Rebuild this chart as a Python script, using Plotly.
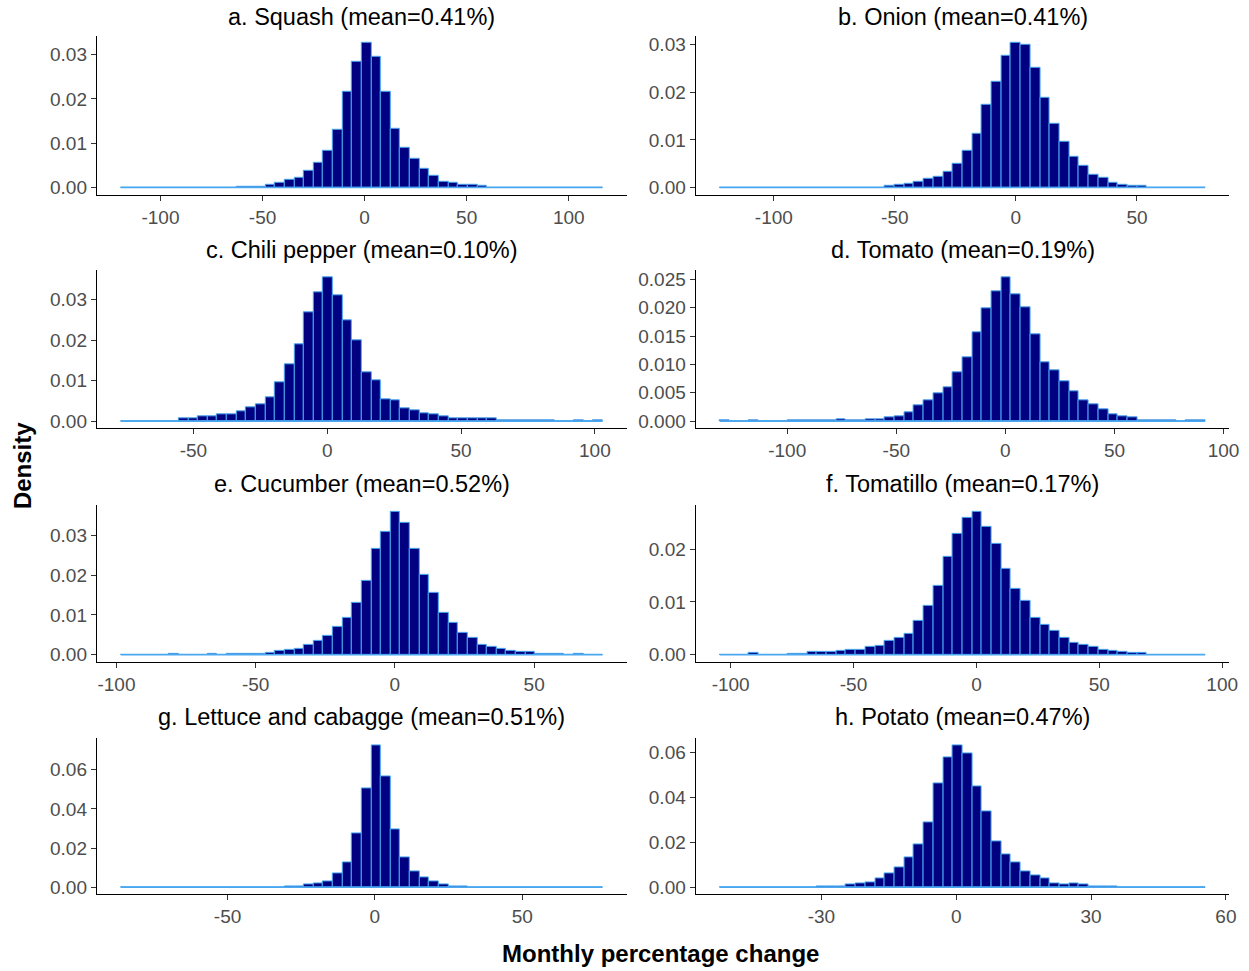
import plotly.graph_objects as go

# ---------------- data ----------------
titles = [
    "a. Squash (mean=0.41%)", "b. Onion (mean=0.41%)",
    "c. Chili pepper (mean=0.10%)", "d. Tomato (mean=0.19%)",
    "e. Cucumber (mean=0.52%)", "f. Tomatillo (mean=0.17%)",
    "g. Lettuce and cabagge (mean=0.51%)", "h. Potato (mean=0.47%)",
]

# left edge of the first bin and bin width (percentage points)
bin_start = [-119.4, -122.3, -77.1, -130.9, -98.4, -104.4, -86.2, -52.6]
bin_width = [4.72, 4.01, 3.6, 4.45, 3.46, 3.95, 3.27, 2.16]

squash = [0]*12 + [0.0002, 0.0002, 0.0002, 0.0007, 0.001, 0.0017, 0.0023, 0.0037,
                   0.0056, 0.0083, 0.013, 0.0215, 0.0284, 0.0326, 0.0295, 0.0217,
                   0.0133, 0.009, 0.0065, 0.0043, 0.0026, 0.0014, 0.0011, 0.0007,
                   0.0007, 0.0003] + [0]*12
onion = [0]*17 + [0.0003, 0.0006, 0.0008, 0.0013, 0.0018, 0.0023, 0.0034, 0.005,
                  0.0078, 0.0113, 0.0174, 0.0222, 0.0277, 0.0303, 0.0299, 0.0251,
                  0.0188, 0.0133, 0.0097, 0.0065, 0.0045, 0.0027, 0.0021, 0.0011,
                  0.0006, 0.0003, 0.0003] + [0]*6
chili = [0]*6 + [0.0006, 0.0006, 0.0011, 0.0011, 0.0017, 0.0017, 0.0024, 0.0033,
                 0.0042, 0.006, 0.0095, 0.014, 0.0191, 0.027, 0.0319, 0.0355,
                 0.031, 0.0249, 0.02, 0.0121, 0.01, 0.0055, 0.0051, 0.0032,
                 0.0027, 0.002, 0.0017, 0.0011,
                 0.0006, 0.0006, 0.0006, 0.0006, 0.0006,
                 0.0003, 0.0003, 0.0003, 0.0003, 0.0003, 0.0003,
                 0, 0, 0.0003, 0, 0.0003]
tomato = [0.0002, 0, 0, 0.0002, 0, 0, 0, 0.0002, 0.0002, 0.0002, 0.0002, 0.0002,
          0.0004, 0.0002, 0.0002, 0.0004, 0.0004, 0.0006, 0.0008, 0.0015, 0.0028,
          0.0037, 0.0049, 0.006, 0.0086, 0.0112, 0.0157, 0.0199, 0.0229, 0.0253,
          0.0224, 0.0201, 0.0153, 0.0103, 0.009, 0.0071, 0.0053, 0.0037, 0.0029,
          0.002, 0.0012, 0.0008, 0.0006, 0.0002, 0.0002, 0.0002, 0.0002, 0,
          0.0002, 0.0002]
cucumber = [0, 0, 0, 0, 0, 0.0003, 0, 0, 0, 0.0003, 0, 0.0003, 0.0003, 0.0003,
            0.0003, 0.0006, 0.001, 0.0012, 0.0016, 0.0025, 0.0035, 0.0047, 0.0069,
            0.0094, 0.0131, 0.0185, 0.0266, 0.031, 0.0359, 0.0331, 0.0266, 0.0201,
            0.0155, 0.0106, 0.0081, 0.0056, 0.0043, 0.0025, 0.0019, 0.0016, 0.001,
            0.0007, 0.0007, 0.0003, 0.0003, 0.0003, 0, 0.0003, 0, 0]
tomatillo = [0, 0, 0, 0.0003, 0, 0, 0, 0.0002, 0.0002, 0.0005, 0.0005, 0.0005,
             0.0007, 0.0009, 0.0009, 0.0014, 0.0016, 0.0026, 0.0032, 0.004, 0.0065,
             0.0093, 0.0131, 0.0186, 0.0228, 0.0258, 0.027, 0.0242, 0.0209, 0.0163,
             0.0124, 0.0102, 0.007, 0.0056, 0.0045, 0.0032, 0.0022, 0.0018, 0.0014,
             0.0009, 0.0007, 0.0005, 0.0003, 0.0003] + [0]*6
lettuce = [0]*17 + [0.0003, 0.0003, 0.0013, 0.002, 0.003, 0.007, 0.0125, 0.0275,
                    0.0505, 0.0723, 0.0568, 0.0293, 0.0155, 0.008, 0.005, 0.003,
                    0.0015, 0.0005, 0.0005] + [0]*14
potato = [0]*10 + [0.0004, 0.0004, 0.0004, 0.0013, 0.0017, 0.0022, 0.0038, 0.006,
                   0.0087, 0.0132, 0.019, 0.0288, 0.0462, 0.0575, 0.063, 0.0597,
                   0.045, 0.0337, 0.0206, 0.0147, 0.0113, 0.0071, 0.0051, 0.0038,
                   0.0016, 0.0012, 0.0016, 0.0012, 0.0004, 0.0004, 0.0004] + [0]*9

densities = [squash, onion, chili, tomato, cucumber, tomatillo, lettuce, potato]

# tick labels (x: percentage change, y: density)
x_ticks = [[-100, -50, 0, 50, 100], [-100, -50, 0, 50], [-50, 0, 50, 100],
           [-100, -50, 0, 50, 100], [-100, -50, 0, 50], [-100, -50, 0, 50, 100],
           [-50, 0, 50], [-30, 0, 30, 60]]
y_ticks = [[0, 0.01, 0.02, 0.03], [0, 0.01, 0.02, 0.03], [0, 0.01, 0.02, 0.03],
           [0, 0.005, 0.01, 0.015, 0.02, 0.025], [0, 0.01, 0.02, 0.03],
           [0, 0.01, 0.02], [0, 0.02, 0.04, 0.06], [0, 0.02, 0.04, 0.06]]
y_decimals = [2, 2, 2, 3, 2, 2, 2, 2]

# ---------------- layout geometry ----------------
W, H = 1249, 971
KX = 1.006                   # small empirical correction of horizontal placement
col_px = [(97, 628), (697, 1232)]
row_px = [(34, 194), (270, 429), (506, 664), (741, 898)]

FILL = "#000080"
EDGE = "#4AA8F0"
FONT = "Liberation Sans, Arial, sans-serif"


def px_x(v):
    return min(1.0, v * KX / W)


def px_y(v):
    return 1 - v / H


fig = go.Figure()
annotations = []
layout_axes = {}

for i, (title, dens) in enumerate(zip(titles, densities)):
    r, c = divmod(i, 2)
    n = len(dens)
    w = bin_width[i]
    x0 = bin_start[i]
    centers = [x0 + (k + 0.5) * w for k in range(n)]
    left, right = x0, x0 + n * w
    span = right - left
    ymax = max(dens)
    ax = "" if i == 0 else str(i + 1)
    xa, ya = "x" + ax, "y" + ax

    # zero-count bins are drawn as outline at density 0 (ggplot style)
    fig.add_trace(go.Scatter(x=[left, right], y=[0, 0], mode="lines",
                             line=dict(color=EDGE, width=1.5),
                             xaxis=xa, yaxis=ya, showlegend=False, hoverinfo="skip"))
    fig.add_trace(go.Bar(x=centers, y=dens, width=w,
                         marker=dict(color=FILL, line=dict(color=EDGE, width=1)),
                         xaxis=xa, yaxis=ya, showlegend=False))

    xl, xr = col_px[c]
    yt, yb = row_px[r]
    common = dict(showline=True, linecolor="black", linewidth=1, mirror=False,
                  ticks="outside", ticklen=5, tickcolor="#333333", tickwidth=1,
                  showgrid=False, zeroline=False,
                  tickfont=dict(family=FONT, size=19, color="#4D4D4D"))
    layout_axes["xaxis" + ax] = dict(
        domain=[px_x(xl), px_x(xr)], anchor=ya,
        range=[left - 0.05 * span, right + 0.05 * span],
        tickmode="array", tickvals=x_ticks[i],
        ticktext=[str(t) for t in x_ticks[i]], **common)
    layout_axes["yaxis" + ax] = dict(
        domain=[px_y(yb), px_y(yt)], anchor=xa,
        range=[-0.05 * ymax, 1.05 * ymax],
        tickmode="array", tickvals=y_ticks[i],
        ticktext=[f"{t:.{y_decimals[i]}f}" for t in y_ticks[i]], **common)

    annotations.append(dict(text=title, xref="paper", yref="paper",
                            x=px_x((xl + xr) / 2), y=px_y(yb - 179),
                            xanchor="center", yanchor="middle", showarrow=False,
                            font=dict(family=FONT, size=23.5, color="black")))

annotations.append(dict(text="<b>Monthly percentage change</b>", xref="paper", yref="paper",
                        x=px_x(662), y=px_y(957), xanchor="center", yanchor="middle",
                        showarrow=False, font=dict(family=FONT, size=24, color="black")))
annotations.append(dict(text="<b>Density</b>", xref="paper", yref="paper",
                        x=px_x(22), y=px_y(466), xanchor="center", yanchor="middle",
                        textangle=-90, showarrow=False,
                        font=dict(family=FONT, size=24, color="black")))

fig.update_layout(width=W, height=H, margin=dict(l=0, r=0, t=0, b=0),
                  plot_bgcolor="white", paper_bgcolor="white",
                  bargap=0, annotations=annotations, **layout_axes)

# place the figure flush with the page corner (remove default body margin)
fig.write_html("out.html", config={"displayModeBar": False},
               post_script="document.body.style.margin='0';document.body.style.overflow='hidden';")
